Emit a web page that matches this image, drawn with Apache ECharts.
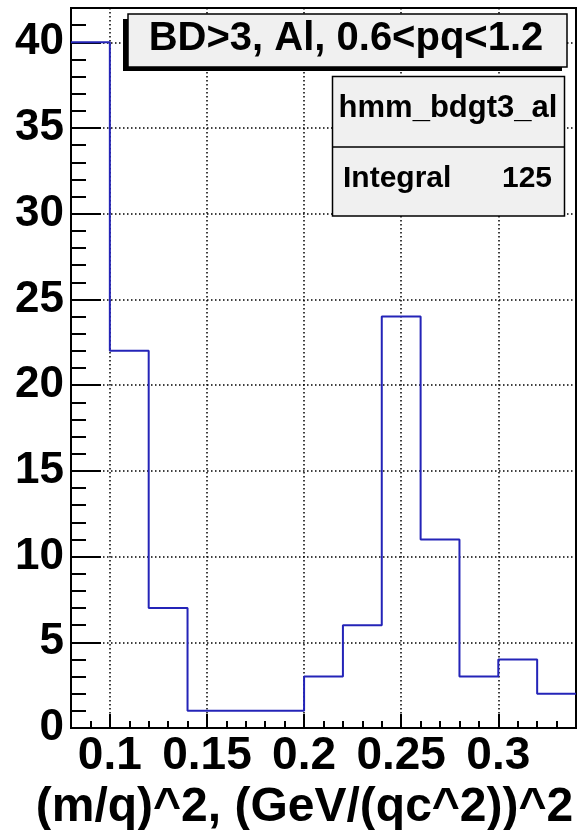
<!DOCTYPE html>
<html>
<head>
<meta charset="utf-8">
<script src="https://cdn.jsdelivr.net/npm/echarts@6/dist/echarts.min.js"></script>
<style>
  html, body { margin: 0; padding: 0; background: #ffffff; }
  #chart { width: 579px; height: 830px; }
</style>
</head>
<body>
<div id="chart"></div>
<script>
// Histogram bins: lower edges, upper edge of the last bin, and counts per bin
const binStarts = [0.08, 0.10, 0.12, 0.14, 0.16, 0.18, 0.20, 0.22, 0.24, 0.26, 0.28, 0.30, 0.32];
const binEnd = 0.34;
const counts = [40, 22, 7, 1, 1, 1, 3, 6, 24, 11, 3, 4, 2];

// Axis ranges and tick marks
const xRange = [0.08, 0.34];
const xMajorTicks = [0.1, 0.15, 0.2, 0.25, 0.3];
const xTickLabels = ['0.1', '0.15', '0.2', '0.25', '0.3'];
const yRange = [0, 42];

// Texts
const paveTitle = 'BD>3, Al, 0.6<pq<1.2';
const histName = 'hmm_bdgt3_al';
const xTitle = '(m/q)^2, (GeV/(qc^2))^2';

const FONT = '"Liberation Sans", Arial, Helvetica, sans-serif';
const integral = counts.reduce((a, b) => a + b, 0);

// Step outline: each bin start with its count, closed by the final edge
const stepData = binStarts.map((x, i) => [x, counts[i]]);
stepData.push([binEnd, counts[counts.length - 1]]);

const dotted = { color: '#000', width: 1.5, type: [1.5, 2.5] };

const chart = echarts.init(document.getElementById('chart'), null, { renderer: 'canvas' });

chart.setOption({
  backgroundColor: '#ffffff',
  animation: false,
  grid: {
    left: 71, right: 3, top: 8, bottom: 102,
    containLabel: false, outerBoundsMode: 'none',
    show: true, borderColor: '#000', borderWidth: 2, backgroundColor: 'transparent'
  },
  xAxis: [
    { // main axis: data scale, major ticks, labels and vertical grid
      type: 'value', min: xRange[0], max: xRange[1], position: 'bottom',
      axisLine: { show: true, lineStyle: { color: '#000', width: 2 } },
      axisTick: { show: true, inside: true, length: 14, customValues: xMajorTicks,
                  lineStyle: { color: '#000', width: 2 } },
      axisLabel: { show: true, customValues: xMajorTicks, margin: 5,
                   formatter: v => xTickLabels[xMajorTicks.findIndex(t => Math.abs(t - v) < 1e-9)] || '',
                   fontFamily: FONT, fontWeight: 'bold', fontSize: 46, color: '#000' },
      splitLine: { show: true, lineStyle: dotted },
      name: xTitle, nameLocation: 'middle', nameGap: 46,
      nameTextStyle: { fontFamily: FONT, fontWeight: 'bold', fontSize: 48, color: '#000',
                       padding: [0, 38, 0, 0] }
    },
    { // minor ticks every 0.01
      type: 'value', min: xRange[0], max: xRange[1], interval: 0.01, position: 'bottom',
      axisLine: { show: false },
      axisTick: { show: true, inside: true, length: 7, lineStyle: { color: '#000', width: 2 } },
      axisLabel: { show: false },
      splitLine: { show: false }
    }
  ],
  yAxis: [
    { // main axis: major ticks, labels and horizontal grid
      type: 'value', min: yRange[0], max: yRange[1], interval: 5, position: 'left',
      axisLine: { show: true, lineStyle: { color: '#000', width: 2 } },
      axisTick: { show: true, inside: true, length: 30, lineStyle: { color: '#000', width: 2 } },
      axisLabel: { show: true, margin: 7, showMaxLabel: false,
                   formatter: v => (v % 5 === 0 ? String(v) : ''),
                   fontFamily: FONT, fontWeight: 'bold', fontSize: 44, color: '#000' },
      splitLine: { show: true, lineStyle: dotted }
    },
    { // minor ticks every 1
      type: 'value', min: yRange[0], max: yRange[1], interval: 1, position: 'left',
      axisLine: { show: false },
      axisTick: { show: true, inside: true, length: 15, lineStyle: { color: '#000', width: 2 } },
      axisLabel: { show: false },
      splitLine: { show: false }
    }
  ],
  series: [{
    type: 'line',
    name: histName,
    xAxisIndex: 0, yAxisIndex: 0,
    step: 'end',
    data: stepData,
    showSymbol: false,
    lineStyle: { color: '#2424b8', width: 2 },
    clip: true,
    z: 3
  }],
  graphic: [
    // title pave with shadow
    { type: 'rect', shape: { x: 123, y: 19, width: 439, height: 52 },
      style: { fill: '#000' }, z: 10 },
    { type: 'rect', shape: { x: 128, y: 14, width: 439, height: 53 },
      style: { fill: '#f0f0f0', stroke: '#000', lineWidth: 1.5 }, z: 11 },
    { type: 'text', x: 346, y: 38.5, z: 12,
      style: { text: paveTitle, fill: '#000', font: 'bold 40px ' + FONT,
               textAlign: 'center', textVerticalAlign: 'middle' } },
    // statistics box
    { type: 'rect', shape: { x: 332.5, y: 76.5, width: 232, height: 139.5 },
      style: { fill: '#f0f0f0', stroke: '#000', lineWidth: 1.5 }, z: 10 },
    { type: 'line', shape: { x1: 332.5, y1: 147, x2: 564.5, y2: 147 },
      style: { stroke: '#000', lineWidth: 1.5 }, z: 11 },
    { type: 'text', x: 448, y: 108, z: 12,
      style: { text: histName, fill: '#000', font: 'bold 31px ' + FONT,
               textAlign: 'center', textVerticalAlign: 'middle' } },
    { type: 'text', x: 343, y: 179, z: 12,
      style: { text: 'Integral', fill: '#000', font: 'bold 30px ' + FONT,
               textAlign: 'left', textVerticalAlign: 'middle' } },
    { type: 'text', x: 552, y: 179, z: 12,
      style: { text: String(integral), fill: '#000', font: 'bold 30px ' + FONT,
               textAlign: 'right', textVerticalAlign: 'middle' } }
  ]
});
</script>
</body>
</html>
